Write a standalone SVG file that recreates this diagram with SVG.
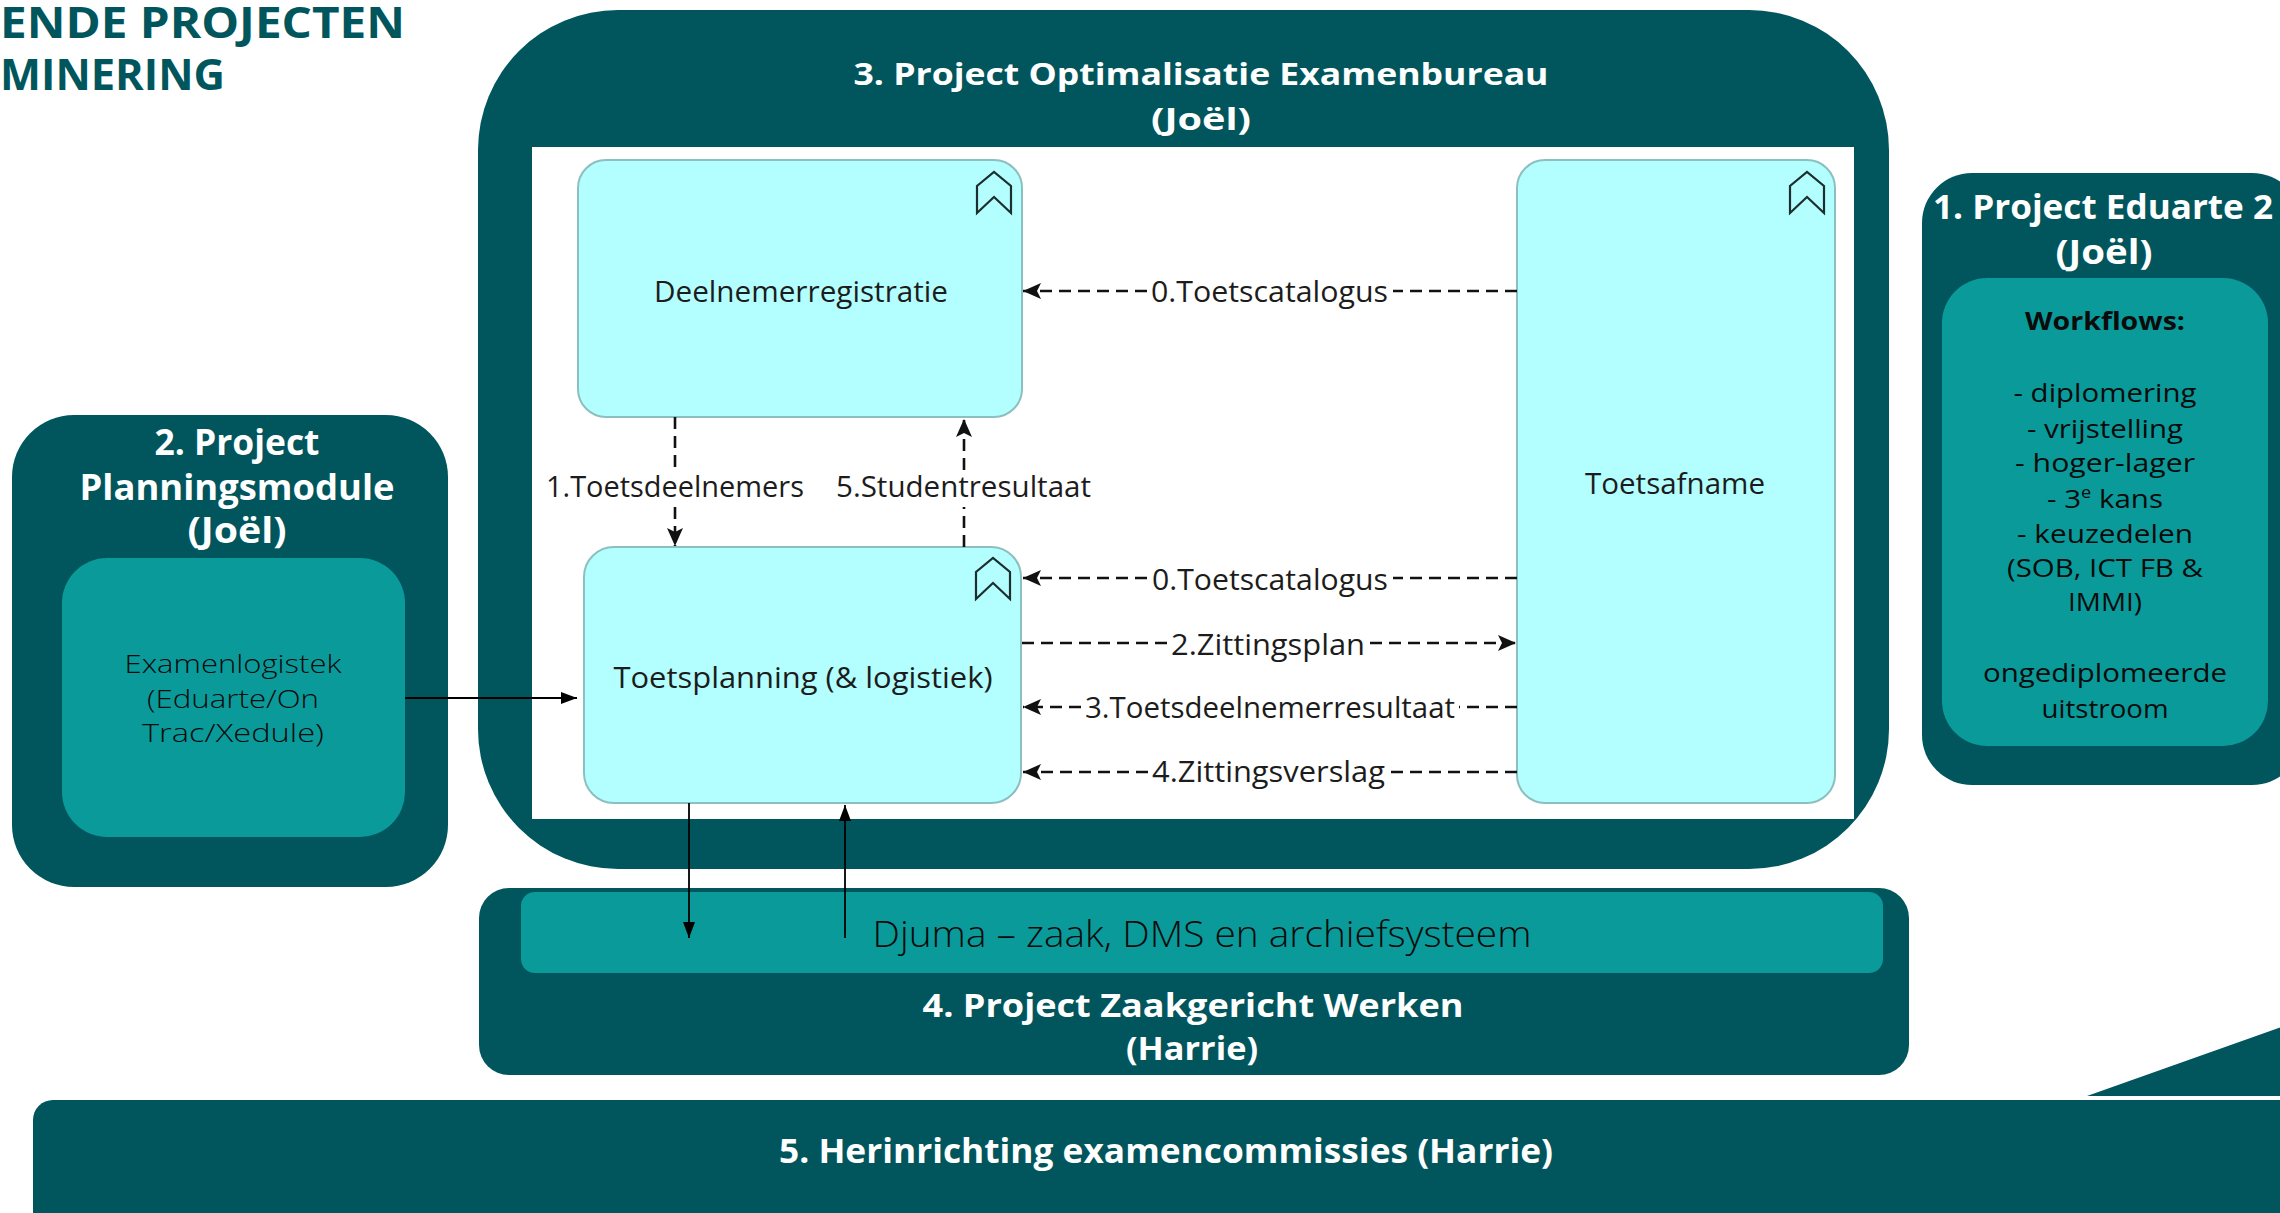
<svg xmlns="http://www.w3.org/2000/svg" width="2280" height="1213" viewBox="0 0 2280 1213">
<style>
.dark{fill:#01565D}
.mid{fill:#0A9A9A}
.app{fill:#B3FFFF;stroke:#8CBFBF;stroke-width:2}
.ttl{font-family:"Open Sans","Liberation Sans",sans-serif;font-weight:700;fill:#ffffff}
.head{font-family:"Open Sans","Liberation Sans",sans-serif;font-weight:700;fill:#01565D}
.body{font-family:"Open Sans","Liberation Sans",sans-serif;font-weight:400;fill:#0b0b0b}
.bold{font-weight:700}
.light{font-weight:300}
.diag{font-family:"Open Sans","Liberation Sans",sans-serif;font-weight:400;fill:#1c1c1c}
.flow{stroke:#111111;stroke-width:2.6;stroke-dasharray:12 7;fill:none}
.link{stroke:#000000;stroke-width:1.8;fill:none}
.icon{fill:none;stroke:#1e2e2e;stroke-width:2.2;stroke-linejoin:miter}
</style>
<defs>
<marker id="ah" viewBox="0 0 16 12" refX="16" refY="6" markerWidth="16" markerHeight="12" orient="auto" markerUnits="userSpaceOnUse">
<path d="M0,0 L16,6 L0,12 z" fill="#000000"/>
</marker>
<marker id="fh" viewBox="0 0 18 16" refX="18" refY="8" markerWidth="18" markerHeight="16" orient="auto" markerUnits="userSpaceOnUse">
<path d="M0,0 L18,8 L0,16 L4,8 z" fill="#111111"/>
</marker>
<path id="chev" class="icon" d="M0,41 L0,14 L17,0 L34,14 L34,41 L17,25 Z"/>
</defs>
<rect x="0" y="0" width="2280" height="1213" fill="#ffffff"/>

<g id="page-title">
<text class="head" x="0" y="38" font-size="43" textLength="405" lengthAdjust="spacingAndGlyphs">ENDE PROJECTEN</text>
<text class="head" x="0" y="90" font-size="43" textLength="225" lengthAdjust="spacingAndGlyphs">MINERING</text>
</g>

<g id="deco">
<polygon class="dark" points="2087,1096 2290,1024 2290,1096"/>
</g>

<g id="project5">
<rect class="dark" x="33" y="1100" width="2280" height="140" rx="20"/>
<text class="ttl" x="1166" y="1163" font-size="34" text-anchor="middle" textLength="774" lengthAdjust="spacingAndGlyphs">5. Herinrichting examencommissies (Harrie)</text>
</g>

<g id="project4">
<rect class="dark" x="479" y="888" width="1430" height="187" rx="30"/>
<rect class="mid" x="521" y="892" width="1362" height="81" rx="14"/>
<text class="body light" x="1202" y="947" font-size="37" text-anchor="middle" textLength="659" lengthAdjust="spacingAndGlyphs">Djuma – zaak, DMS en archiefsysteem</text>
<text class="ttl" x="1193" y="1017" font-size="33" text-anchor="middle" textLength="541" lengthAdjust="spacingAndGlyphs">4. Project Zaakgericht Werken</text>
<text class="ttl" x="1192" y="1060" font-size="33" text-anchor="middle" textLength="132" lengthAdjust="spacingAndGlyphs">(Harrie)</text>
</g>

<g id="project2">
<rect class="dark" x="12" y="415" width="436" height="472" rx="62"/>
<text class="ttl" x="237" y="455" font-size="35" text-anchor="middle" textLength="165" lengthAdjust="spacingAndGlyphs">2. Project</text>
<text class="ttl" x="237" y="500" font-size="35" text-anchor="middle" textLength="315" lengthAdjust="spacingAndGlyphs">Planningsmodule</text>
<text class="ttl" x="237" y="543" font-size="35" text-anchor="middle" textLength="99" lengthAdjust="spacingAndGlyphs">(Joël)</text>
<rect class="mid" x="62" y="558" width="343" height="279" rx="45"/>
<text class="body light" x="233" y="673" font-size="26" text-anchor="middle" textLength="217" lengthAdjust="spacingAndGlyphs">Examenlogistek</text>
<text class="body light" x="233" y="708" font-size="26" text-anchor="middle" textLength="172" lengthAdjust="spacingAndGlyphs">(Eduarte/On</text>
<text class="body light" x="233" y="742" font-size="26" text-anchor="middle" textLength="182" lengthAdjust="spacingAndGlyphs">Trac/Xedule)</text>
</g>

<g id="project1">
<rect class="dark" x="1922" y="173" width="380" height="612" rx="50"/>
<text class="ttl" x="1933" y="219" font-size="34" textLength="340" lengthAdjust="spacingAndGlyphs">1. Project Eduarte 2</text>
<text class="ttl" x="2104" y="264" font-size="34" text-anchor="middle" textLength="97" lengthAdjust="spacingAndGlyphs">(Joël)</text>
<rect class="mid" x="1942" y="278" width="326" height="468" rx="45"/>
<text class="body bold" x="2105" y="330" font-size="25" text-anchor="middle" textLength="160" lengthAdjust="spacingAndGlyphs">Workflows:</text>
<text class="body" x="2105" y="402" font-size="26" text-anchor="middle" textLength="183" lengthAdjust="spacingAndGlyphs">- diplomering</text>
<text class="body" x="2105" y="438" font-size="26" text-anchor="middle" textLength="156" lengthAdjust="spacingAndGlyphs">- vrijstelling</text>
<text class="body" x="2105" y="472" font-size="26" text-anchor="middle" textLength="180" lengthAdjust="spacingAndGlyphs">- hoger-lager</text>
<text class="body" x="2105" y="508" font-size="26" text-anchor="middle" textLength="116" lengthAdjust="spacingAndGlyphs">- 3<tspan font-size="16" dy="-10">e</tspan><tspan dy="10"> kans</tspan></text>
<text class="body" x="2105" y="543" font-size="26" text-anchor="middle" textLength="176" lengthAdjust="spacingAndGlyphs">- keuzedelen</text>
<text class="body" x="2105" y="577" font-size="26" text-anchor="middle" textLength="196" lengthAdjust="spacingAndGlyphs">(SOB, ICT FB &amp;</text>
<text class="body" x="2105" y="611" font-size="26" text-anchor="middle" textLength="74" lengthAdjust="spacingAndGlyphs">IMMI)</text>
<text class="body" x="2105" y="682" font-size="26" text-anchor="middle" textLength="244" lengthAdjust="spacingAndGlyphs">ongediplomeerde</text>
<text class="body" x="2105" y="718" font-size="26" text-anchor="middle" textLength="127" lengthAdjust="spacingAndGlyphs">uitstroom</text>
</g>

<g id="project3">
<rect class="dark" x="478" y="10" width="1411" height="859" rx="140"/>
<text class="ttl" x="1201" y="85" font-size="31" text-anchor="middle" textLength="695" lengthAdjust="spacingAndGlyphs">3. Project Optimalisatie Examenbureau</text>
<text class="ttl" x="1201" y="130" font-size="31" text-anchor="middle" textLength="100" lengthAdjust="spacingAndGlyphs">(Joël)</text>
<rect x="532" y="147" width="1322" height="672" fill="#ffffff"/>
</g>

<g id="deelnemerregistratie">
<rect class="app" x="578" y="160" width="444" height="257" rx="28"/>
<use href="#chev" x="977" y="172"/>
<text class="diag" x="801" y="302" font-size="30" text-anchor="middle" textLength="294" lengthAdjust="spacingAndGlyphs">Deelnemerregistratie</text>
</g>

<g id="toetsafname">
<rect class="app" x="1517" y="160" width="318" height="643" rx="28"/>
<use href="#chev" x="1790" y="172"/>
<text class="diag" x="1675" y="494" font-size="30" text-anchor="middle" textLength="180" lengthAdjust="spacingAndGlyphs">Toetsafname</text>
</g>

<g id="toetsplanning">
<rect class="app" x="584" y="547" width="437" height="256" rx="30"/>
<use href="#chev" x="976" y="558"/>
<text class="diag" x="803" y="688" font-size="30" text-anchor="middle" textLength="379" lengthAdjust="spacingAndGlyphs">Toetsplanning (&amp; logistiek)</text>
</g>

<g id="connectors">
<path class="flow" d="M1147,291 L1023,291" marker-end="url(#fh)"/>
<path class="flow" d="M1517,291 L1393,291"/>
<text class="diag" x="1151" y="302" font-size="29" textLength="237" lengthAdjust="spacingAndGlyphs">0.Toetscatalogus</text>

<path class="flow" d="M675,417 L675,470"/>
<path class="flow" d="M675,507 L675,546" marker-end="url(#fh)"/>
<text class="diag" x="546" y="497" font-size="29" textLength="258" lengthAdjust="spacingAndGlyphs">1.Toetsdeelnemers</text>

<path class="flow" d="M964,547 L964,507"/>
<path class="flow" d="M964,470 L964,419" marker-end="url(#fh)"/>
<text class="diag" x="836" y="497" font-size="29" textLength="255" lengthAdjust="spacingAndGlyphs">5.Studentresultaat</text>

<path class="flow" d="M1147,578 L1023,578" marker-end="url(#fh)"/>
<path class="flow" d="M1517,578 L1393,578"/>
<text class="diag" x="1152" y="590" font-size="29" textLength="236" lengthAdjust="spacingAndGlyphs">0.Toetscatalogus</text>

<path class="flow" d="M1022,643 L1167,643"/>
<path class="flow" d="M1370,643 L1516,643" marker-end="url(#fh)"/>
<text class="diag" x="1171" y="655" font-size="29" textLength="194" lengthAdjust="spacingAndGlyphs">2.Zittingsplan</text>

<path class="flow" d="M1081,707 L1023,707" marker-end="url(#fh)"/>
<path class="flow" d="M1517,707 L1459,707"/>
<text class="diag" x="1085" y="718" font-size="29" textLength="370" lengthAdjust="spacingAndGlyphs">3.Toetsdeelnemerresultaat</text>

<path class="flow" d="M1148,772 L1023,772" marker-end="url(#fh)"/>
<path class="flow" d="M1517,772 L1389,772"/>
<text class="diag" x="1152" y="782" font-size="29" textLength="233" lengthAdjust="spacingAndGlyphs">4.Zittingsverslag</text>

<path class="link" d="M405,698 L577,698" marker-end="url(#ah)"/>
<path class="link" d="M689,803 L689,938" marker-end="url(#ah)"/>
<path class="link" d="M845,938 L845,805" marker-end="url(#ah)"/>
</g>
</svg>
